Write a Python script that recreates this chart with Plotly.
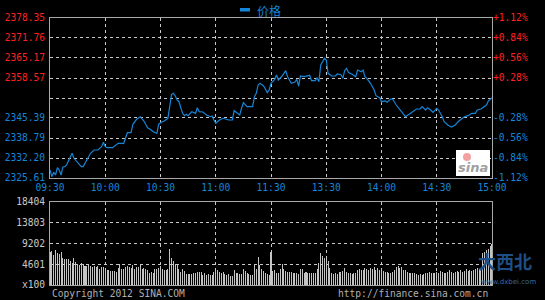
import plotly.graph_objects as go

# ---- data ----
minutes = [0,1,2,3,4,5,6,7,8,9,10,12,13,15,17,18,19,21,22,24,26,28,29,30,31,34,37,40,41,42,44,45,47,49,51,53,55,56,58,59,
           60,62,64,65,66,67,68,69,70,72,73,74,75,77,79,80,81,83,85,87,88,89,90,92,94,97,99,100,103,104,105,107,110,111,112,113,114,116,118,119,
           120,122,123,124,126,128,129,131,133,134,135,136,138,141,142,144,145,146,147,148,149,150,151,153,155,156,158,159,160,161,162,164,166,167,169,170,171,172,174,176,177,179,
           180,182,183,185,186,188,190,192,193,195,197,199,201,202,204,205,206,208,210,211,213,214,216,218,220,222,224,225,227,229,231,232,234,235,237,238,240]
prices = [2328.25,2326.04,2327.50,2326.60,2329.00,2328.25,2326.60,2329.25,2329.36,2329.90,2331.22,2333.75,2332.10,2330.78,2329.36,2329.36,2330.48,2332.64,2333.75,2334.84,
          2334.84,2335.93,2337.38,2335.93,2335.60,2335.60,2337.05,2337.05,2339.22,2340.54,2340.54,2343.31,2344.96,2345.82,2344.40,2342.19,2341.43,2340.87,2340.34,2343.31,
          2343.83,2344.40,2345.29,2350.23,2353.20,2353.53,2352.74,2351.32,2350.76,2346.93,2346.15,2346.60,2346.15,2347.47,2346.93,2348.78,2347.47,2347.37,2346.38,2345.82,
          2346.05,2344.73,2343.64,2344.73,2345.29,2344.73,2344.73,2347.80,2346.38,2348.59,2350.43,2349.12,2349.12,2352.41,2353.53,2356.27,2356.82,2355.93,2353.73,2354.62,
          2356.82,2358.14,2359.56,2357.91,2359.23,2360.98,2359.00,2356.82,2357.25,2358.14,2355.93,2359.23,2359.00,2359.46,2357.68,2357.68,2358.57,2357.35,2362.86,2363.95,
          2365.07,2364.51,2360.12,2359.23,2359.23,2359.89,2359.66,2358.47,2360.98,2361.77,2360.45,2359.79,2359.00,2361.21,2360.65,2361.21,2359.00,2358.47,2356.82,2354.62,
          2352.74,2352.08,2350.76,2350.99,2350.56,2351.65,2351.65,2349.67,2348.02,2346.61,2345.82,2346.61,2347.47,2348.36,2348.36,2349.12,2348.02,2348.78,2348.36,2347.27,
          2348.59,2348.02,2345.82,2344.17,2343.08,2342.42,2343.08,2344.40,2345.29,2345.82,2346.15,2346.93,2346.93,2348.02,2348.36,2348.78,2349.67,2350.99,2352.08]

volume = [7380,7540,6650,7760,7170,6800,7320,5920,5770,5770,
          5770,5320,4950,5920,5170,4660,4430,4950,4660,4210,
          4300,4430,4210,4060,4210,4060,4210,3550,3920,4060,
          3700,3330,3250,3180,3180,3100,2960,3700,4660,3550,
          3550,3920,4210,3920,3700,4430,3480,4060,3920,4660,
          3550,3700,3550,3330,2730,2960,2730,3480,3480,3700,
          4210,3480,3330,3330,3480,7900,5920,5400,4660,4430,
          3480,2960,3480,3180,2440,2440,2440,2440,2590,2730,
          2880,2880,2880,2220,2590,2220,2440,2300,2220,2810,
          3180,3330,2810,2590,2810,2370,2220,2440,2070,2000,
          3330,2590,2590,2440,2440,3550,3180,2590,2440,2220,
          2220,4660,3480,6140,4510,3480,3100,2590,2440,2300,
          7380,3030,3330,2730,2590,3480,4660,3480,3180,2960,
          2880,2880,2730,2590,2590,2440,3480,3480,2590,2880,
          2590,2590,2590,2590,2730,3480,4810,7090,6430,5920,
          5700,5400,3700,2590,2440,2590,2440,2810,2810,3000,
          3700,2960,2730,2590,2440,2730,2590,3330,3480,3400,
          3330,3700,3480,3330,3700,3550,3920,3330,3700,3330,
          3180,3180,2960,2810,2730,2590,2960,3330,3920,4210,
          3700,3920,3330,3330,2960,2730,2730,2590,2590,2440,
          2220,2440,2220,2440,2590,2730,2960,2590,2730,2590,
          2960,2730,3180,2810,2590,2730,2960,3330,2810,2730,
          2960,3180,2810,3330,2960,3180,3480,3180,3330,3180,
          3330,3480,3700,3480,3700,7090,7380,7760,8020,8680,
          9000]
vol_minutes = list(range(len(volume)))

price_ticks = [2325.61, 2332.20, 2338.79, 2345.39, 2351.98, 2358.57, 2365.17, 2371.76, 2378.35]
price_labels = ["2325.61", "2332.20", "2338.79", "2345.39", "", "2358.57", "2365.17", "2371.76", "2378.35"]
pct_labels = ["-1.12%", "-0.84%", "-0.56%", "-0.28%", "", "+0.28%", "+0.56%", "+0.84%", "+1.12%"]
time_ticks = [0, 30, 60, 90, 120, 150, 180, 210, 240]
time_labels = ["09:30", "10:00", "10:30", "11:00", "11:30", "13:30", "14:00", "14:30", "15:00"]
vol_ticks = [0, 4601, 9202, 13803, 18404]
vol_labels = ["x100", "4601", "9202", "13803", "18404"]
series_name = "价格"

BLUE = "#1585D8"
RED = "#FF2020"
GREY = "#A8A8A8"
GRID = "#C8C8C8"
MONO = "DejaVu Sans Mono"
FS = 9.6
mid = price_ticks[len(price_ticks) // 2]

def colored(labels, ticks):
    out = []
    for lab, t in zip(labels, ticks):
        if t > mid:
            out.append('<span style="color:%s">%s</span>' % (RED, lab))
        else:
            out.append(lab)
    return out

fig = go.Figure()
fig.add_trace(go.Scatter(x=minutes, y=prices, mode="lines", name=series_name,
                         line=dict(color=BLUE, width=1.2), xaxis="x", yaxis="y",
                         hoverinfo="skip", showlegend=False))
fig.add_trace(go.Scatter(x=minutes, y=prices, mode="lines", line=dict(color="rgba(0,0,0,0)", width=0),
                         xaxis="x", yaxis="y3", hoverinfo="skip", showlegend=False))
fig.add_trace(go.Bar(x=vol_minutes, y=volume, width=0.55, marker=dict(color="#C4C4C4", line=dict(width=0)),
                     xaxis="x2", yaxis="y2", hoverinfo="skip", showlegend=False))

p_lo = (285 - 178) / 267
v_hi = (285 - 202) / 267

common_x = dict(range=[0, 240], tickvals=time_ticks, showgrid=True, gridcolor=GRID, griddash="dot",
                gridwidth=1, showline=True, linecolor=GREY, linewidth=1, mirror=True, zeroline=False,
                ticks="", fixedrange=True, automargin=False)
fig.update_layout(
    width=545, height=300,
    margin=dict(l=50, r=53, t=18, b=15, autoexpand=False),
    paper_bgcolor="black", plot_bgcolor="black",
    hovermode=False,
    xaxis=dict(**common_x, domain=[0, 1], anchor="y", ticktext=time_labels,
               tickfont=dict(family=MONO, size=FS, color=BLUE)),
    xaxis2=dict(**common_x, domain=[0, 1], anchor="y2", matches="x", showticklabels=False),
    yaxis=dict(domain=[p_lo, 1], anchor="x", range=[price_ticks[0], price_ticks[-1]],
               tickvals=price_ticks, ticktext=colored(price_labels, price_ticks),
               tickfont=dict(family=MONO, size=FS, color=BLUE), ticklabelstandoff=2,
               showgrid=True, gridcolor=GRID, griddash="dot", showline=True, linecolor=GREY,
               mirror=True, zeroline=False, ticks="", fixedrange=True, automargin=False),
    yaxis3=dict(overlaying="y", side="right", anchor="x", range=[price_ticks[0], price_ticks[-1]],
                tickvals=price_ticks, ticktext=colored(pct_labels, price_ticks),
                tickfont=dict(family=MONO, size=FS, color=BLUE),
                showgrid=False, zeroline=False, showline=False, ticks="", fixedrange=True,
                automargin=False),
    yaxis2=dict(domain=[0, v_hi], anchor="x2", range=[0, vol_ticks[-1]], tickvals=vol_ticks,
                ticktext=vol_labels, tickfont=dict(family=MONO, size=FS, color="#C8C8C8"),
                ticklabelstandoff=2,
                showgrid=True, gridcolor=GRID, griddash="dot", showline=True, linecolor=GREY,
                mirror=True, zeroline=False, ticks="", fixedrange=True, automargin=False),
    bargap=0,
)

def py(y):
    return (285 - y) / 267

def px(x):
    return (x - 50) / 442

# legend key
fig.add_shape(type="rect", xref="paper", yref="paper", x0=px(240), x1=px(250), y0=py(11.5), y1=py(8),
              fillcolor=BLUE, line=dict(width=0))
fig.add_annotation(xref="paper", yref="paper", x=px(255), y=py(11), xanchor="left", yanchor="middle",
                   text=series_name, showarrow=False,
                   font=dict(family="Noto Sans CJK SC", size=12, color=BLUE))

# sina logo box
fig.add_shape(type="rect", xref="paper", yref="paper", x0=px(456), x1=px(490), y0=py(176), y1=py(150),
              fillcolor="white", line=dict(width=0), layer="above")
fig.add_shape(type="circle", xref="paper", yref="paper", x0=px(463), x1=px(471), y0=py(161), y1=py(153),
              fillcolor="#F4A0A0", line=dict(width=0), layer="above")
fig.add_annotation(xref="paper", yref="paper", x=px(473), y=py(167), xanchor="center", yanchor="middle",
                   text="<b><i>sina</i></b>", showarrow=False,
                   font=dict(family="DejaVu Sans", size=13, color="#A0A0A0"))

# footer texts
fig.add_annotation(xref="paper", yref="paper", x=0, y=py(293), xanchor="left", yanchor="middle",
                   text="Copyright 2012 SINA.COM", showarrow=False,
                   font=dict(family=MONO, size=FS, color="#B0B0B0"))
fig.add_annotation(xref="paper", yref="paper", x=px(490), y=py(293), xanchor="right", yanchor="middle",
                   text="http://finance.sina.com.cn", showarrow=False,
                   font=dict(family=MONO, size=FS, color="#B0B0B0"))

# watermark
fig.add_annotation(xref="paper", yref="paper", x=px(505), y=py(261), xanchor="center", yanchor="middle",
                   text="<b>大西北</b>", showarrow=False,
                   font=dict(family="Noto Sans CJK SC", size=18, color="#1F4E86"))
fig.add_annotation(xref="paper", yref="paper", x=px(508), y=py(282), xanchor="center", yanchor="middle",
                   text="www.dxbei.com", showarrow=False,
                   font=dict(family="DejaVu Sans", size=7, color="#3A6A9E"))

fig.write_html("out.html", config={"displayModeBar": False, "staticPlot": True})
